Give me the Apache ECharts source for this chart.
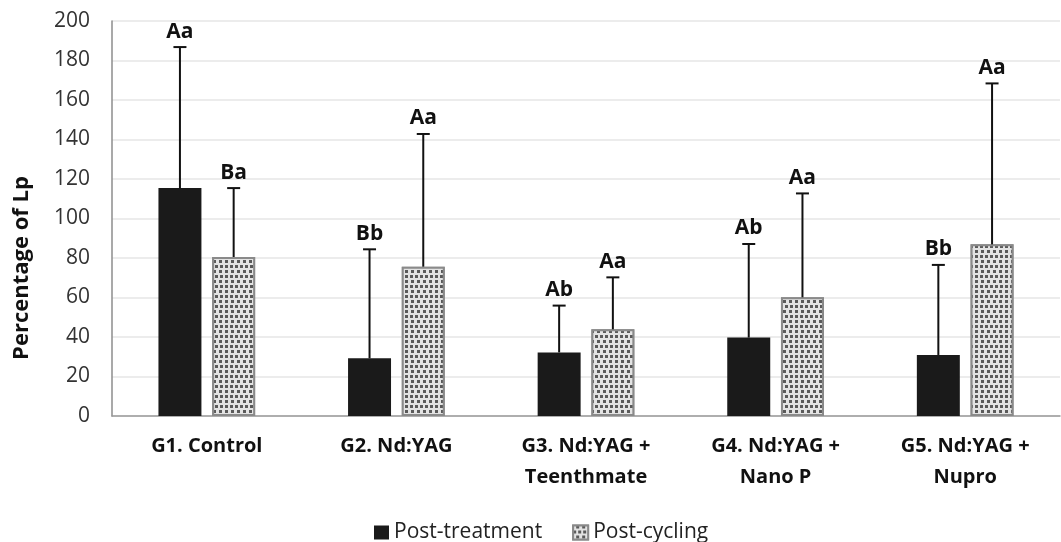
<!DOCTYPE html>
<html><head><meta charset="utf-8">
<script src="https://cdn.jsdelivr.net/npm/echarts@6/dist/echarts.min.js"></script>
<style>html,body{margin:0;padding:0;background:#fff}#c{width:1061px;height:542px}</style>
</head><body><div id="c"></div>
<script>
const categories = ['G1. Control', 'G2. Nd:YAG', 'G3. Nd:YAG +\nTeenthmate', 'G4. Nd:YAG +\nNano P', 'G5. Nd:YAG +\nNupro'];
const postTreatment = [115.4, 29.2, 32.2, 39.7, 30.9];
const postTreatmentSD = [71.4, 55.2, 23.7, 47.4, 45.6];
const postCycling = [80.5, 75.6, 43.9, 60.1, 86.9];
const postCyclingSD = [34.9, 67.2, 26.3, 52.6, 81.5];
const treatmentLetters = ['Aa', 'Bb', 'Ab', 'Ab', 'Bb'];
const cyclingLetters = ['Ba', 'Aa', 'Aa', 'Aa', 'Aa'];
const yTicks = [0, 20, 40, 60, 80, 100, 120, 140, 160, 180, 200];

const FONT = '"Open Sans", "DejaVu Sans", sans-serif';
const CAT_GAP = 0.49, BAR_GAP = 0.25;

function errSeries(vals, sds, letters, side) {
  return {
    type: 'custom', z: 5, silent: true,
    renderItem: function (params, api) {
      const i = api.value(0), v = api.value(1), sd = api.value(2);
      const base = api.coord([i, v]);
      const top = api.coord([i, v + sd]);
      const band = api.size([1, 0])[0];
      const w = band * (1 - CAT_GAP) / (2 + BAR_GAP);
      const x = base[0] + side * w * (1 + BAR_GAP) / 2;
      const st = { stroke: '#111', lineWidth: 2 };
      return { type: 'group', children: [
        { type: 'line', shape: { x1: x, y1: base[1], x2: x, y2: top[1] }, style: st },
        { type: 'line', shape: { x1: x - 6.5, y1: top[1], x2: x + 6.5, y2: top[1] }, style: st },
        { type: 'text', x: x, y: top[1] - 5, style: { text: letters[params.dataIndex], align: 'center', verticalAlign: 'bottom', font: 'bold 21px ' + FONT, fill: '#111' } }
      ]};
    },
    data: vals.map((v, i) => [i, v, sds[i]])
  };
}

const chart = echarts.init(document.getElementById('c'), null, { renderer: 'canvas' });
chart.setOption({
  animation: false,
  textStyle: { fontFamily: FONT },
  grid: { left: 112, right: 1, top: 21, bottom: 126, containLabel: false },
  legend: {
    data: ['Post-treatment', 'Post-cycling'],
    left: 369, top: 517, itemWidth: 15, itemHeight: 14, itemGap: 30, icon: 'rect',
    textStyle: { fontSize: 21, color: '#222', fontFamily: FONT }
  },
  graphic: [{
    type: 'text', x: 22, y: 268, rotation: Math.PI / 2,
    style: { text: 'Percentage of Lp', align: 'center', verticalAlign: 'middle', font: 'bold 22px ' + FONT, fill: '#111' }
  }],
  xAxis: {
    type: 'category', data: categories,
    axisTick: { show: false },
    axisLine: { lineStyle: { color: '#999', width: 1.5 } },
    axisLabel: { margin: 15, fontSize: 20, fontWeight: 'bold', color: '#111', lineHeight: 31, fontFamily: FONT, interval: 0 }
  },
  yAxis: {
    type: 'value', min: 0, max: 200, interval: 20,
    axisLine: { show: true, lineStyle: { color: '#8c8c8c', width: 1.5 } },
    axisTick: { show: false },
    splitLine: { lineStyle: { color: '#e6e6e6', width: 1.5 } },
    axisLabel: { margin: 22, fontSize: 21, color: '#333', fontFamily: FONT,
      formatter: v => (yTicks.indexOf(v) >= 0 ? String(v) : '') }
  },
  series: [
    { name: 'Post-treatment', type: 'bar', data: postTreatment, barCategoryGap: '49%', barGap: '25%',
      itemStyle: { color: '#1a1a1a' } },
    { name: 'Post-cycling', type: 'bar', data: postCycling, barCategoryGap: '49%', barGap: '25%',
      itemStyle: { color: '#e3e3e3', borderColor: '#8a8a8a', borderWidth: 2,
        decal: { symbol: 'rect', symbolSize: 1, color: '#5a5a5a', backgroundColor: '#e3e3e3',
          dashArrayX: [[3, 2], [0, 2.5, 3, -0.5]], dashArrayY: [3, 1.5], rotation: 0 } } },
    errSeries(postTreatment, postTreatmentSD, treatmentLetters, -1),
    errSeries(postCycling, postCyclingSD, cyclingLetters, 1)
  ]
});
</script></body></html>
